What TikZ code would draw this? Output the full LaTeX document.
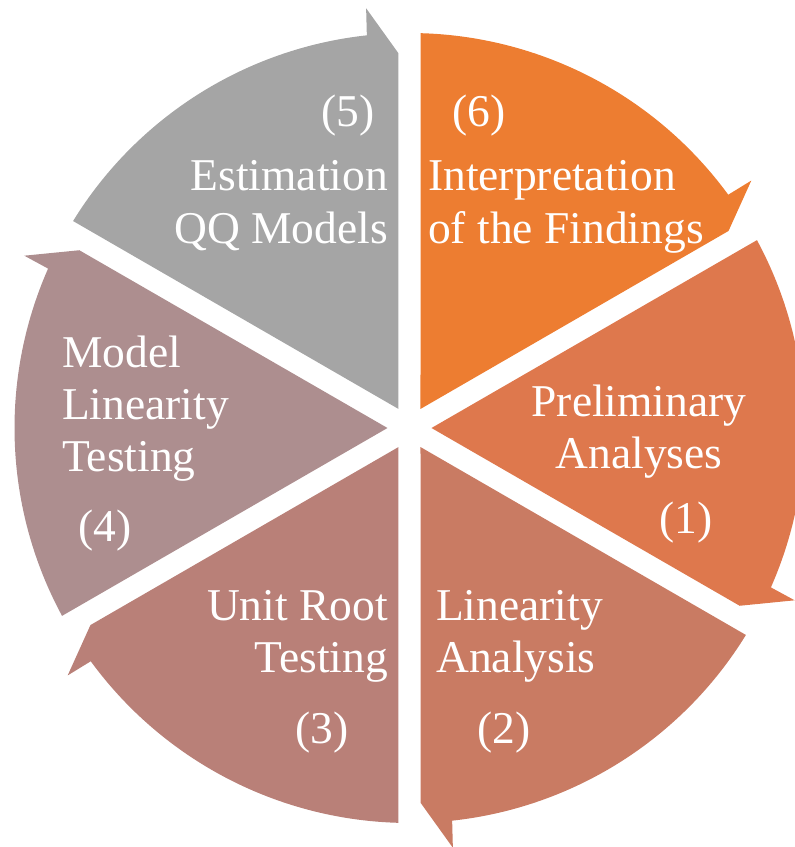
\documentclass[tikz,border=0pt]{standalone}
\usepackage{fontspec}
\setmainfont{Liberation Serif}
\usepackage{tikz}

\definecolor{stageone}{HTML}{DE784D}
\definecolor{stagetwo}{HTML}{C97B63}
\definecolor{stagethree}{HTML}{B98078}
\definecolor{stagefour}{HTML}{AD8E8F}
\definecolor{stagefive}{HTML}{A5A5A5}
\definecolor{stagesix}{HTML}{ED7D31}

\begin{document}
\begin{tikzpicture}[x=1pt,y=1pt]
    		\tikzstyle{stagetext}=[text=white, inner sep=0pt, font=\fontsize{45.5}{52.5}\selectfont]
    		\useasboundingbox (-409.5,-419) rectangle (385.5,428);

    		% six wedges, each ending in an arrow point (clockwise)
    		\foreach \a/\col in {90/stagesix, 30/stageone, -30/stagetwo, -90/stagethree, -150/stagefour, 150/stagefive}
    		  \fill[\col] (\a-30:22pt) -- (\a-1.6:395pt)
    		    arc[start angle=\a-1.6, end angle=\a-53.8, radius=395pt]
    		    -- (\a-54.1:422pt) -- (\a-58.3:375pt) -- cycle;

    		% (1)
    		\node[stagetext, anchor=base] (P-1) at (229.5,12) {Preliminary};
    		\node[stagetext, anchor=base] (P-2) at (229.5,-40) {Analyses};
    		\node[stagetext, anchor=base] (P-n) at (276.5,-105) {(1)};
    		% (2)
    		\node[stagetext, anchor=base west] (L-1) at (26.5,-192) {Linearity};
    		\node[stagetext, anchor=base west] (L-2) at (26.5,-244) {Analysis};
    		\node[stagetext, anchor=base] (L-n) at (94.5,-315) {(2)};
    		% (3)
    		\node[stagetext, anchor=base east] (U-1) at (-21.5,-192) {Unit Root};
    		\node[stagetext, anchor=base east] (U-2) at (-21.5,-244) {Testing};
    		\node[stagetext, anchor=base] (U-n) at (-87.5,-315) {(3)};
    		% (4)
    		\node[stagetext, anchor=base west] (M-1) at (-347.5,61) {Model};
    		\node[stagetext, anchor=base west] (M-2) at (-347.5,9) {Linearity};
    		\node[stagetext, anchor=base west] (M-3) at (-347.5,-43) {Testing};
    		\node[stagetext, anchor=base] (M-n) at (-304.5,-113) {(4)};
    		% (5)
    		\node[stagetext, anchor=base east] (E-1) at (-21.5,237) {Estimation};
    		\node[stagetext, anchor=base east] (E-2) at (-21.5,185) {QQ Models};
    		\node[stagetext, anchor=base east] (E-n) at (-35,301) {(5)};
    		% (6)
    		\node[stagetext, anchor=base west] (I-1) at (18.5,237) {Interpretation};
    		\node[stagetext, anchor=base west] (I-2) at (18.5,185) {of the Findings};
    		\node[stagetext, anchor=base west] (I-n) at (42.5,301) {(6)};

    	\end{tikzpicture}
\end{document}
